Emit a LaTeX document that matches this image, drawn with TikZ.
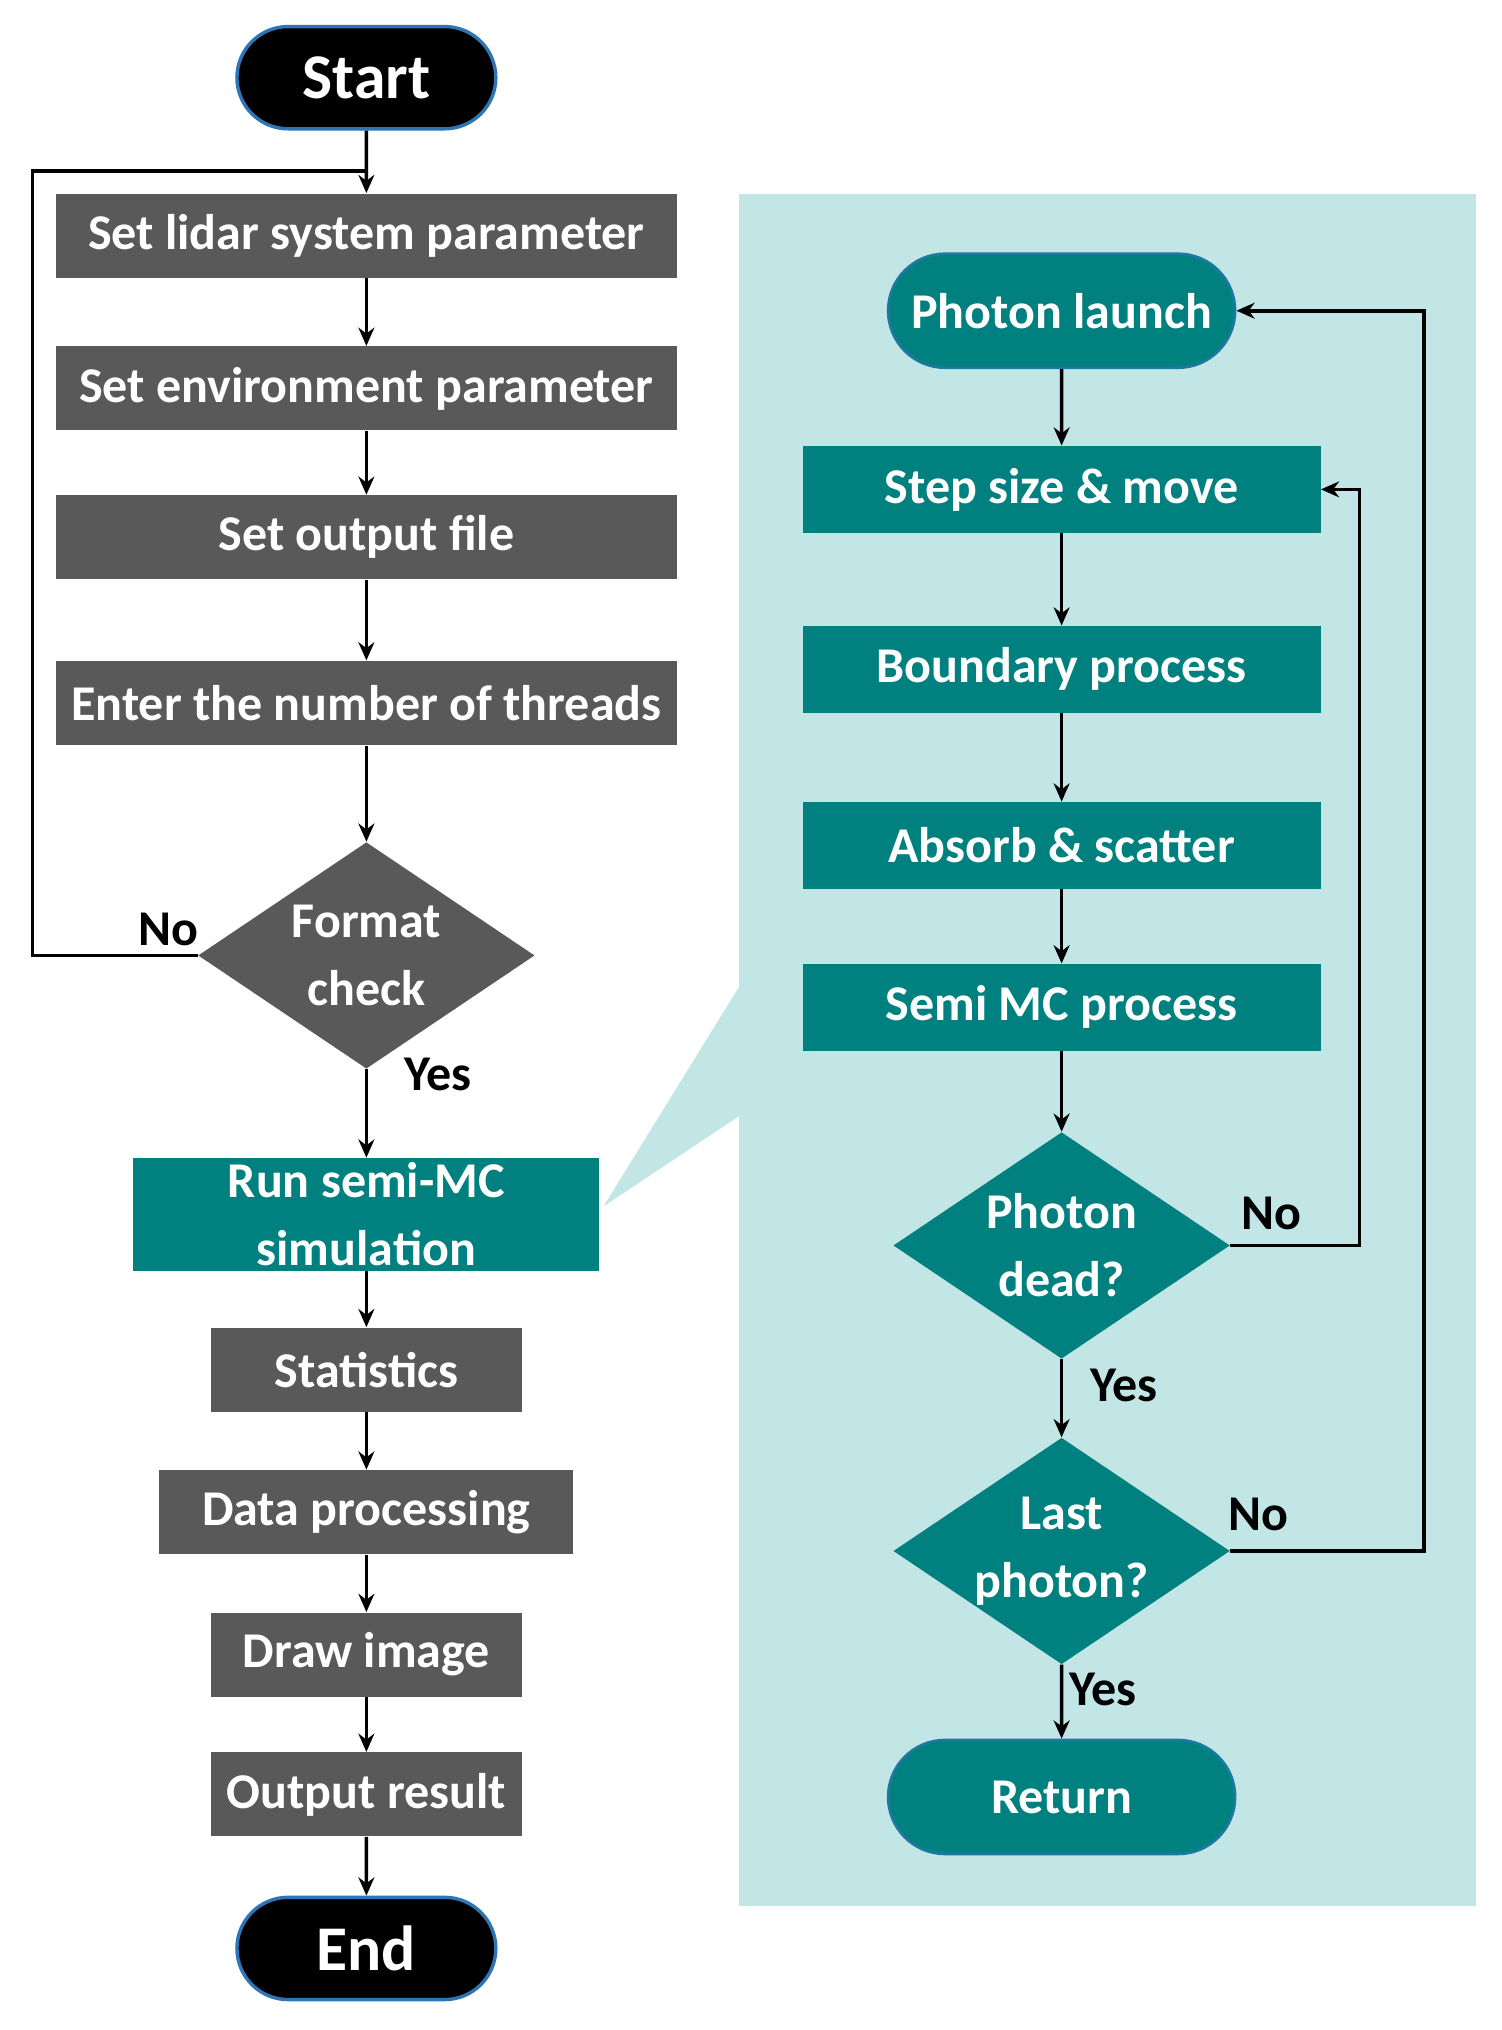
\documentclass[tikz,border=0pt]{standalone}
\usepackage{fontspec}
\setmainfont{Carlito}
\usetikzlibrary{shapes.geometric,shapes.misc,arrows.meta}
\definecolor{dg}{HTML}{595959}
\definecolor{tl}{HTML}{00807F}
\definecolor{lt}{HTML}{C2E5E5}
\definecolor{bd}{HTML}{2E75B6}
\begin{document}
\begin{tikzpicture}[x=0.02cm,y=-0.02cm,
 txt/.style={text=white,font=\bfseries\fontsize{22}{26}\selectfont,align=center,inner sep=0},
 gbox/.style={txt,rectangle,fill=dg,minimum height=1.3cm},
 tbox/.style={txt,rectangle,fill=tl,minimum height=1.34cm,minimum width=8cm},
 term/.style={txt,rounded rectangle,fill=black,draw=bd,line width=1.5pt,minimum width=4cm,minimum height=1.58cm,font=\bfseries\fontsize{28}{32}\selectfont},
 tterm/.style={txt,rounded rectangle,fill=tl,draw=bd!60!tl,line width=1.2pt,minimum width=5.36cm,minimum height=1.76cm},
 dia/.style={txt,diamond,aspect=1.486,minimum width=5.2cm,minimum height=3.5cm},
 ar/.style={-{Stealth[length=8pt,width=7pt]},line width=1.6pt},
 ln/.style={line width=1.6pt},
 lab/.style={font=\bfseries\fontsize{22}{26}\selectfont}]
\useasboundingbox (0,0) rectangle (1160,1568);
\fill[lt] (571,150) rectangle (1140,1472);
\fill[lt] (466,932) -- (571,762) -- (571,862) -- cycle;
\node[term] (start) at (283,60) {Start};
\node[gbox,minimum width=9.6cm] (s1) at (283,182) {Set lidar system parameter};
\node[gbox,minimum width=9.6cm] (s2) at (283,300) {Set environment parameter};
\node[gbox,minimum width=9.6cm] (s3) at (283,415) {Set output file};
\node[gbox,minimum width=9.6cm] (s4) at (283,543) {Enter the number of threads};
\node[dia,fill=dg] (fc) at (283,738) {Format\\[4pt]check};
\node[txt,fill=tl,minimum width=7.2cm,minimum height=1.74cm] (run) at (283,938) {Run semi-MC\\[4pt]simulation};
\node[gbox,minimum width=4.8cm] (st) at (283,1058) {Statistics};
\node[gbox,minimum width=6.4cm] (dp) at (283,1168) {Data processing};
\node[gbox,minimum width=4.8cm] (di) at (283,1278) {Draw image};
\node[gbox,minimum width=4.8cm] (or) at (283,1386) {Output result};
\node[term] (end) at (283,1505) {End};
\coordinate (j) at (283,132);
\draw[ar] (start) -- (s1);
\draw[ar] (s1) -- (s2);
\draw[ar] (s2) -- (s3);
\draw[ar] (s3) -- (s4);
\draw[ar] (s4) -- (fc);
\draw[ar] (fc) -- (run);
\draw[ar] (run) -- (st);
\draw[ar] (st) -- (dp);
\draw[ar] (dp) -- (di);
\draw[ar] (di) -- (or);
\draw[ar] (or) -- (end);
\draw[ln] (fc.west) -- (25,738) -- (25,132) -- (j);
\node[lab] at (130,718) {No};
\node[lab] at (338,830) {Yes};
\node[tterm] (pl) at (820,240) {Photon launch};
\node[tbox] (ss) at (820,378) {Step size \& move};
\node[tbox] (bp) at (820,517) {Boundary process};
\node[tbox] (as) at (820,653) {Absorb \& scatter};
\node[tbox] (sm) at (820,778) {Semi MC process};
\node[dia,fill=tl] (pd) at (820,962) {Photon\\[4pt]dead?};
\node[dia,fill=tl] (lp) at (820,1198) {Last\\[4pt]photon?};
\node[tterm] (ret) at (820,1388) {Return};
\draw[ar] (pl) -- (ss);
\draw[ar] (ss) -- (bp);
\draw[ar] (bp) -- (as);
\draw[ar] (as) -- (sm);
\draw[ar] (sm) -- (pd);
\draw[ar] (pd) -- (lp);
\draw[ar] (lp) -- (ret);
\draw[ar] (pd.east) -- (1050,962) -- (1050,378) -- (ss.east);
\draw[ar] (lp.east) -- (1100,1198) -- (1100,240) -- (pl.east);
\node[lab] at (982,937) {No};
\node[lab] at (972,1170) {No};
\node[lab] at (868,1070) {Yes};
\node[lab] at (852,1305) {Yes};
\end{tikzpicture}
\end{document}
